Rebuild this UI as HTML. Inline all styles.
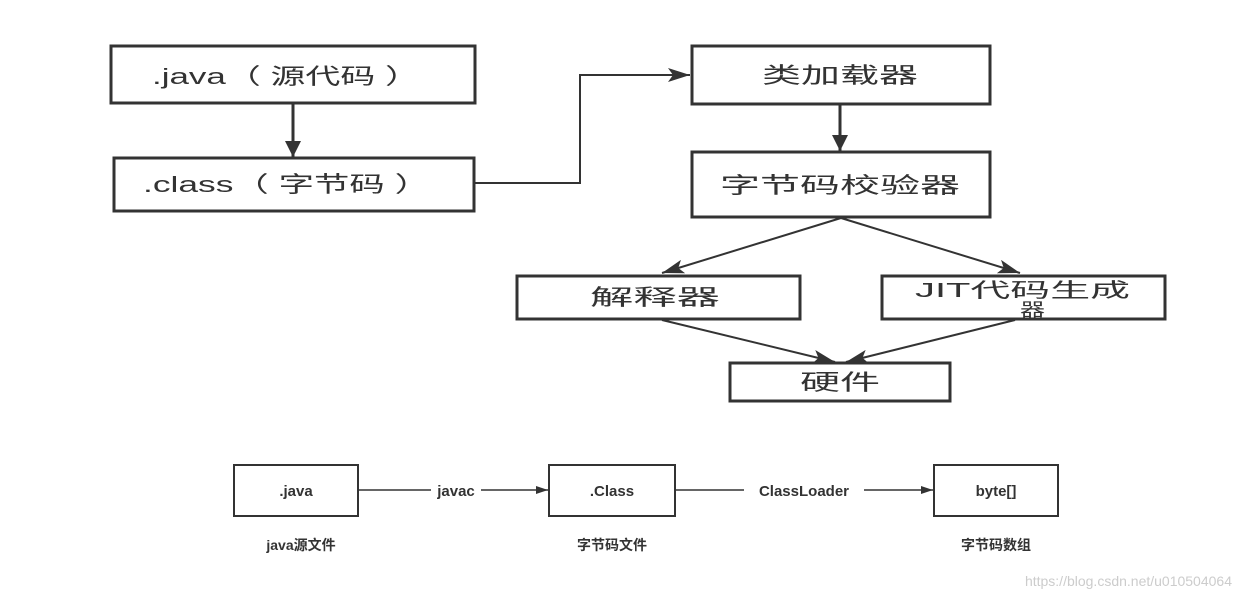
<!DOCTYPE html>
<html><head><meta charset="utf-8"><style>
body{margin:0;background:#fff;width:1240px;height:600px;overflow:hidden}
svg text{font-family:"Liberation Sans","Noto Sans CJK SC",sans-serif;fill:#333}
</style></head><body>
<svg width="1240" height="600" viewBox="0 0 1240 600">
<defs>
<marker id="a" markerWidth="12" markerHeight="8" refX="12" refY="4" orient="auto" markerUnits="userSpaceOnUse"><path d="M0,0 L12,4 L0,8z" fill="#333"/></marker>
<marker id="b" markerWidth="22" markerHeight="14" refX="22" refY="7" orient="auto" markerUnits="userSpaceOnUse"><path d="M0,0 L22,7 L0,14 L5,7z" fill="#333"/></marker>
<marker id="c" markerWidth="16" markerHeight="16" refX="16" refY="8" orient="auto" markerUnits="userSpaceOnUse"><path d="M0,0 L16,8 L0,16z" fill="#333"/></marker>
</defs>
<g fill="#fff" stroke="#333" stroke-width="3">
<rect x="111" y="46" width="364" height="57"/>
<rect x="114" y="158" width="360" height="53"/>
<rect x="692" y="46" width="298" height="58"/>
<rect x="692" y="152" width="298" height="65"/>
<rect x="517" y="276" width="283" height="43"/>
<rect x="882" y="276" width="283" height="43"/>
<rect x="730" y="363" width="220" height="38"/>
</g>
<g stroke="#333" stroke-width="3" fill="none">
<line x1="293" y1="103" x2="293" y2="157" marker-end="url(#c)"/>
<line x1="840" y1="104" x2="840" y2="151" marker-end="url(#c)"/>
<polyline points="475,183 580,183 580,75 690,75" stroke-width="2" marker-end="url(#b)"/>
<line x1="841" y1="218" x2="662" y2="273" stroke-width="2" marker-end="url(#b)"/>
<line x1="841" y1="218" x2="1020" y2="273" stroke-width="2" marker-end="url(#b)"/>
<line x1="662" y1="320" x2="835" y2="362" stroke-width="2" marker-end="url(#b)"/>
<line x1="1015" y1="320" x2="846" y2="362" stroke-width="2" marker-end="url(#b)"/>
</g>
<g font-size="22">
<text x="152" y="84" textLength="268" lengthAdjust="spacingAndGlyphs">.java（ 源代码 ）</text>
<text x="143" y="192" textLength="287" lengthAdjust="spacingAndGlyphs">.class（ 字节码 ）</text>
<text x="762" y="83" textLength="156" lengthAdjust="spacingAndGlyphs">类加载器</text>
<text x="720" y="193" textLength="240" lengthAdjust="spacingAndGlyphs">字节码校验器</text>
<text x="590" y="305" textLength="130" lengthAdjust="spacingAndGlyphs">解释器</text>
<text x="915" y="297" font-size="20" textLength="215" lengthAdjust="spacingAndGlyphs">JIT代码生成</text>
<text x="1020" y="316" font-size="18" textLength="25" lengthAdjust="spacingAndGlyphs">器</text>
<text x="800" y="390" textLength="80" lengthAdjust="spacingAndGlyphs">硬件</text>
</g>
<g fill="#fff" stroke="#333" stroke-width="2">
<rect x="234" y="465" width="124" height="51"/>
<rect x="549" y="465" width="126" height="51"/>
<rect x="934" y="465" width="124" height="51"/>
</g>
<g stroke="#333" stroke-width="1.5">
<line x1="358" y1="490" x2="548" y2="490" marker-end="url(#a)"/>
<line x1="675" y1="490" x2="933" y2="490" marker-end="url(#a)"/>
</g>
<rect x="431" y="481" width="50" height="18" fill="#fff"/>
<rect x="744" y="481" width="120" height="18" fill="#fff"/>
<g font-size="15" font-weight="bold" text-anchor="middle">
<text x="296" y="496">.java</text>
<text x="612" y="496">.Class</text>
<text x="996" y="496">byte[]</text>
<text x="456" y="496">javac</text>
<text x="804" y="496">ClassLoader</text>
<text x="301" y="550" font-size="14">java源文件</text>
<text x="612" y="550" font-size="14">字节码文件</text>
<text x="996" y="550" font-size="14">字节码数组</text>
</g>
<text x="1232" y="586" font-size="14" text-anchor="end" style="fill:#ccc">https://blog.csdn.net/u010504064</text>
</svg>
</body></html>
